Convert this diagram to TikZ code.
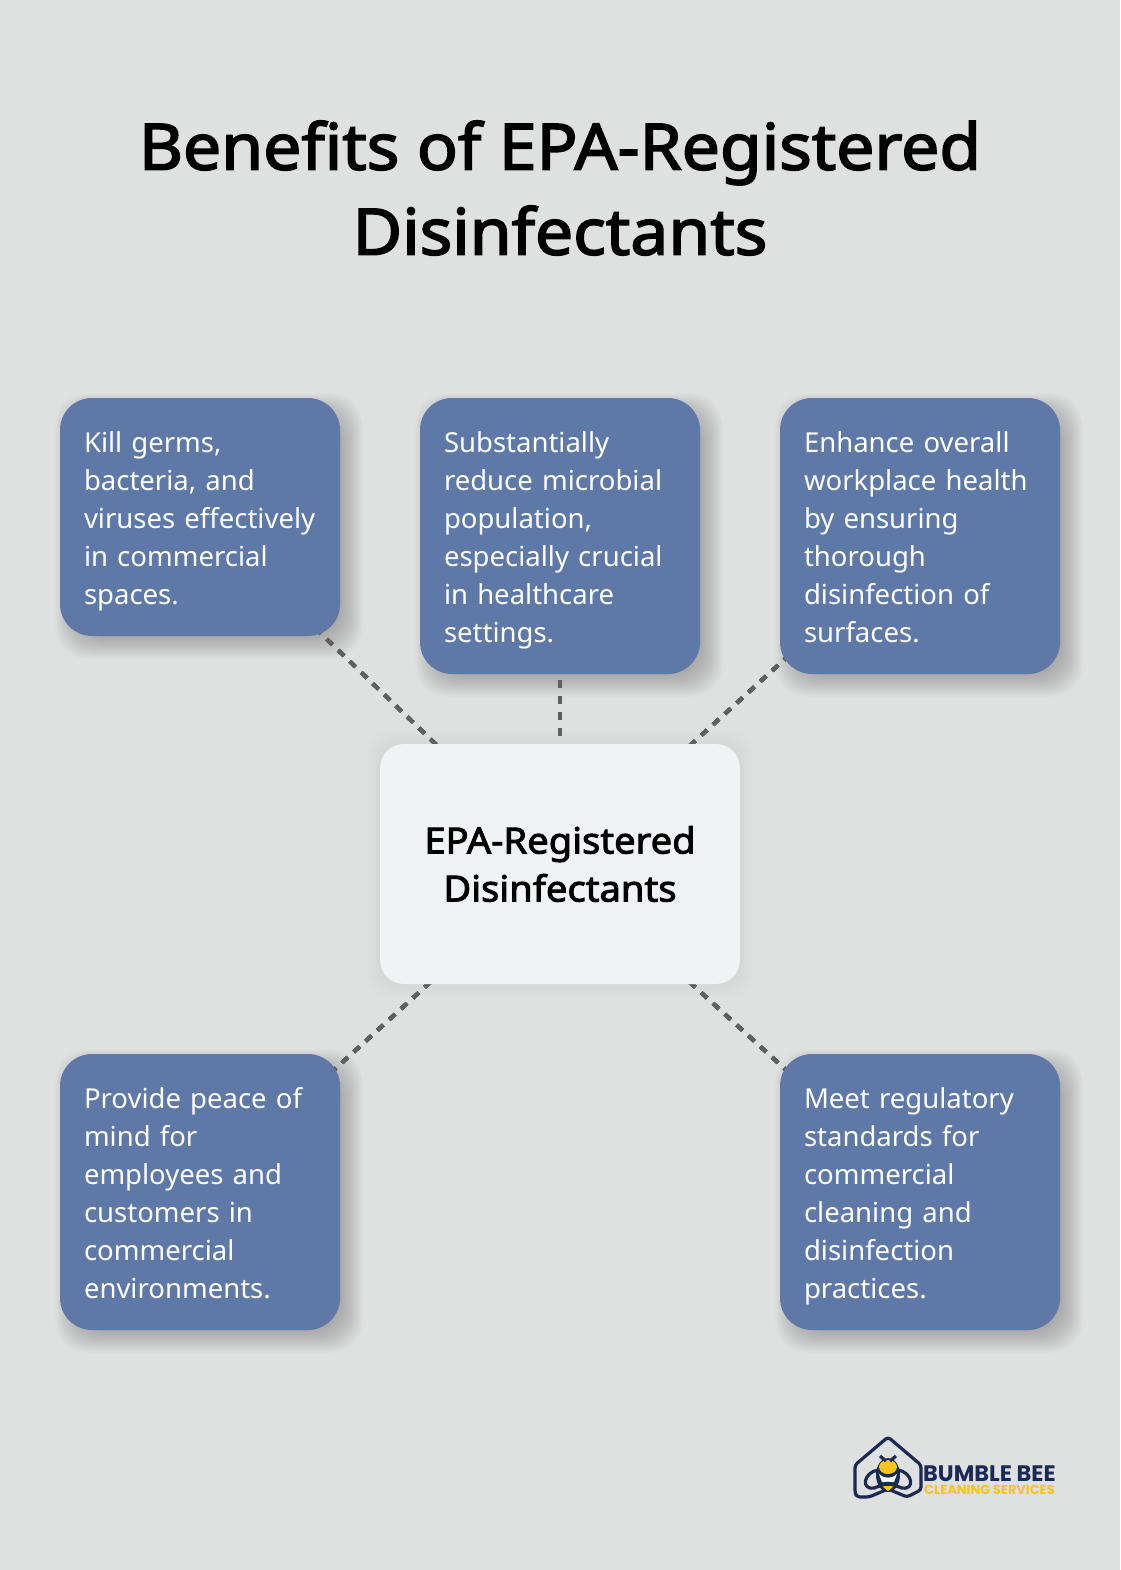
\documentclass[tikz,border=0pt]{standalone}
\usepackage{fontspec}
\setmainfont{Noto Sans}
\newfontfamily\headfont{Noto Sans}[FakeBold=2.6,FakeStretch=1.06]
\newfontfamily\logofont{Poppins}
\usetikzlibrary{backgrounds}
\definecolor{pagegray}{RGB}{223,225,224}
\definecolor{boxblue}{RGB}{94,120,168}
\definecolor{centerwhite}{RGB}{240,242,244}
\definecolor{dashgray}{RGB}{96,96,96}
\definecolor{beenavy}{RGB}{27,42,84}
\definecolor{beeyellow}{RGB}{245,196,30}
\tikzset{
  benefit/.style={fill=boxblue,text=white,rounded corners=32pt,minimum width=280pt,
    inner sep=0pt,text width=232pt,align=left,
    font=\fontsize{27.5}{38}\selectfont,
    execute at begin node={\rule{0pt}{34.6pt}},execute at end node=\strut},
  hub/.style={fill=centerwhite,rounded corners=24pt,minimum width=360pt,minimum height=240pt,
    inner sep=0pt,align=center,font=\headfont\fontsize{36}{48}\selectfont},
  link/.style={draw=dashgray,line width=4pt,dash pattern=on 8pt off 8pt},
  beeline/.style={draw=beenavy,line width=3.2pt,line join=round,rounded corners=3pt}
}
% soft shadow under a box, built from stacked see-through outlines
\newcommand{\softshadow}[4]{%
  \foreach \s in {1,...,20}
    \fill[black,opacity=#4,rounded corners=#3]
      ([xshift=#2pt+\s*1.5pt-15pt,yshift=-#2pt-\s*1.5pt+15pt]#1.north west)
      rectangle ([xshift=#2pt-\s*1.5pt+15pt,yshift=-#2pt+\s*1.5pt-15pt]#1.south east);
}
\begin{document}
\hyphenpenalty=10000
\begin{tikzpicture}[x=1pt,y=-1pt]
\useasboundingbox (0,0) rectangle (1120,1570);

\node[font=\headfont\fontsize{64}{85}\selectfont,align=center] (title) at (560,188)
  {Benefits of EPA-Registered\\Disinfectants};

% boxes
\node[hub] (epa) at (560,864) {EPA-Registered\\Disinfectants};
\node[benefit,minimum height=238pt] (kill) at (200,517)
  {Kill germs,\\bacteria, and\\viruses effectively\\in commercial\\spaces.};
\node[benefit,minimum height=276pt] (reduce) at (560,536)
  {Substantially\\reduce microbial\\population,\\especially crucial\\in healthcare\\settings.};
\node[benefit,minimum height=276pt] (health) at (920,536)
  {Enhance overall\\workplace health\\by ensuring\\thorough\\disinfection of\\surfaces.};
\node[benefit,minimum height=276pt] (peace) at (200,1192)
  {Provide peace of\\mind for\\employees and\\customers in\\commercial\\environments.};
\node[benefit,minimum height=276pt] (meet) at (920,1192)
  {Meet regulatory\\standards for\\commercial\\cleaning and\\disinfection\\practices.};

\begin{pgfonlayer}{background}
  \fill[pagegray] (0,0) rectangle (1120,1570);
  \softshadow{epa}{0}{24pt}{0.004}
  \foreach \n in {kill,reduce,health,peace,meet}
    \softshadow{\n}{9}{32pt}{0.014}
  % connectors
  \foreach \n in {kill,reduce,health,peace,meet}
    \draw[link] (\n.center) -- (epa.center);
\end{pgfonlayer}

% logo
\draw[beeline] (855,1493) -- (855,1465) -- (888,1437) -- (921,1465) -- (921,1490)
  -- (907,1497) -- (888,1489) -- (869,1497) -- (857,1497) -- cycle;
\fill[beenavy] (888,1475) ellipse (12pt and 17pt);
\fill[beeyellow] (888,1467) ellipse (9pt and 7pt);
\fill[white] (879,1474) .. controls (883,1479) and (893,1479) .. (897,1474) -- (894,1482) -- (882,1482) -- cycle;
\fill[beeyellow] (882,1486) -- (894,1486) -- (888,1491) -- cycle;
\draw[beeline,rounded corners=0pt] (878,1470) .. controls (864,1472) and (860,1490) .. (874,1488) -- (888,1483);
\draw[beeline,rounded corners=0pt] (898,1470) .. controls (912,1472) and (916,1490) .. (902,1488) -- (888,1483);
\draw[beeline] (880,1456) -- (886,1461) (896,1456) -- (890,1461);
\node[anchor=west,inner sep=0pt,text=beenavy,font=\logofont\fontsize{22.4}{22}\selectfont\bfseries] (logoname) at (923,1474) {BUMBLE BEE};
\node[anchor=west,inner sep=0pt,text=beeyellow,font=\logofont\fontsize{13}{12}\selectfont\bfseries] (logosub) at (924,1490) {CLEANING SERVICES};
\end{tikzpicture}
\end{document}
